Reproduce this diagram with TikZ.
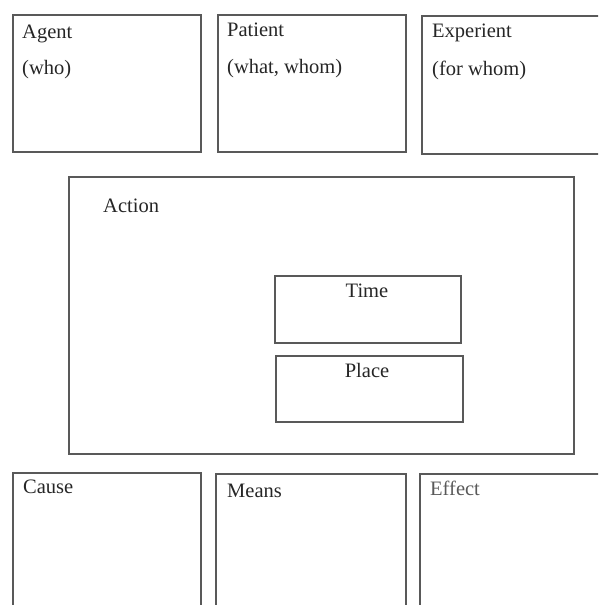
\documentclass[tikz,border=0pt]{standalone}
\usepackage{fontspec}
\setmainfont{Liberation Serif}
\begin{document}
\begin{tikzpicture}[x=1pt,y=-1pt,
  box/.style={draw=black!65,line width=1.6pt,inner sep=0pt,anchor=north west},
  lbl/.style={inner sep=0pt,anchor=base west,font=\fontsize{20.5}{24}\selectfont,text=black!85},
  clbl/.style={inner sep=0pt,anchor=base,font=\fontsize{20.5}{24}\selectfont,text=black!85}]
\useasboundingbox (0,0) rectangle (598,605);
\clip (0,0) rectangle (598,605);
% top row
\node[box,minimum width=188pt,minimum height=137pt] (agent) at (12,14) {};
\node[box,minimum width=188pt,minimum height=137pt] (patient) at (217,14) {};
\node[box,minimum width=200pt,minimum height=138pt] (experient) at (421,15) {};
\node[lbl] (agentT) at (22,38) {Agent};
\node[lbl] (agentS) at (22,74) {(who)};
\node[lbl] (patientT) at (227,36) {Patient};
\node[lbl] (patientS) at (227,73) {(what, whom)};
\node[lbl] (experientT) at (432,37) {Experient};
\node[lbl] (experientS) at (432,75) {(for whom)};
% action
\node[box,minimum width=505pt,minimum height=277pt] (action) at (68,176) {};
\node[lbl] (actionT) at (103,212) {Action};
\node[box,minimum width=186pt,minimum height=67pt] (time) at (274,275) {};
\node[clbl] (timeT) at (367,297) {Time};
\node[box,minimum width=187pt,minimum height=66pt] (place) at (275,355) {};
\node[clbl] (placeT) at (367,377) {Place};
% bottom row
\node[box,minimum width=188pt,minimum height=160pt] (cause) at (12,472) {};
\node[box,minimum width=190pt,minimum height=160pt] (means) at (215,473) {};
\node[box,minimum width=200pt,minimum height=160pt] (effect) at (419,473) {};
\node[lbl] (causeT) at (23,493) {Cause};
\node[lbl] (meansT) at (227,497) {Means};
\node[lbl,text=black!65] (effectT) at (430,495) {Effect};
\end{tikzpicture}
\end{document}
